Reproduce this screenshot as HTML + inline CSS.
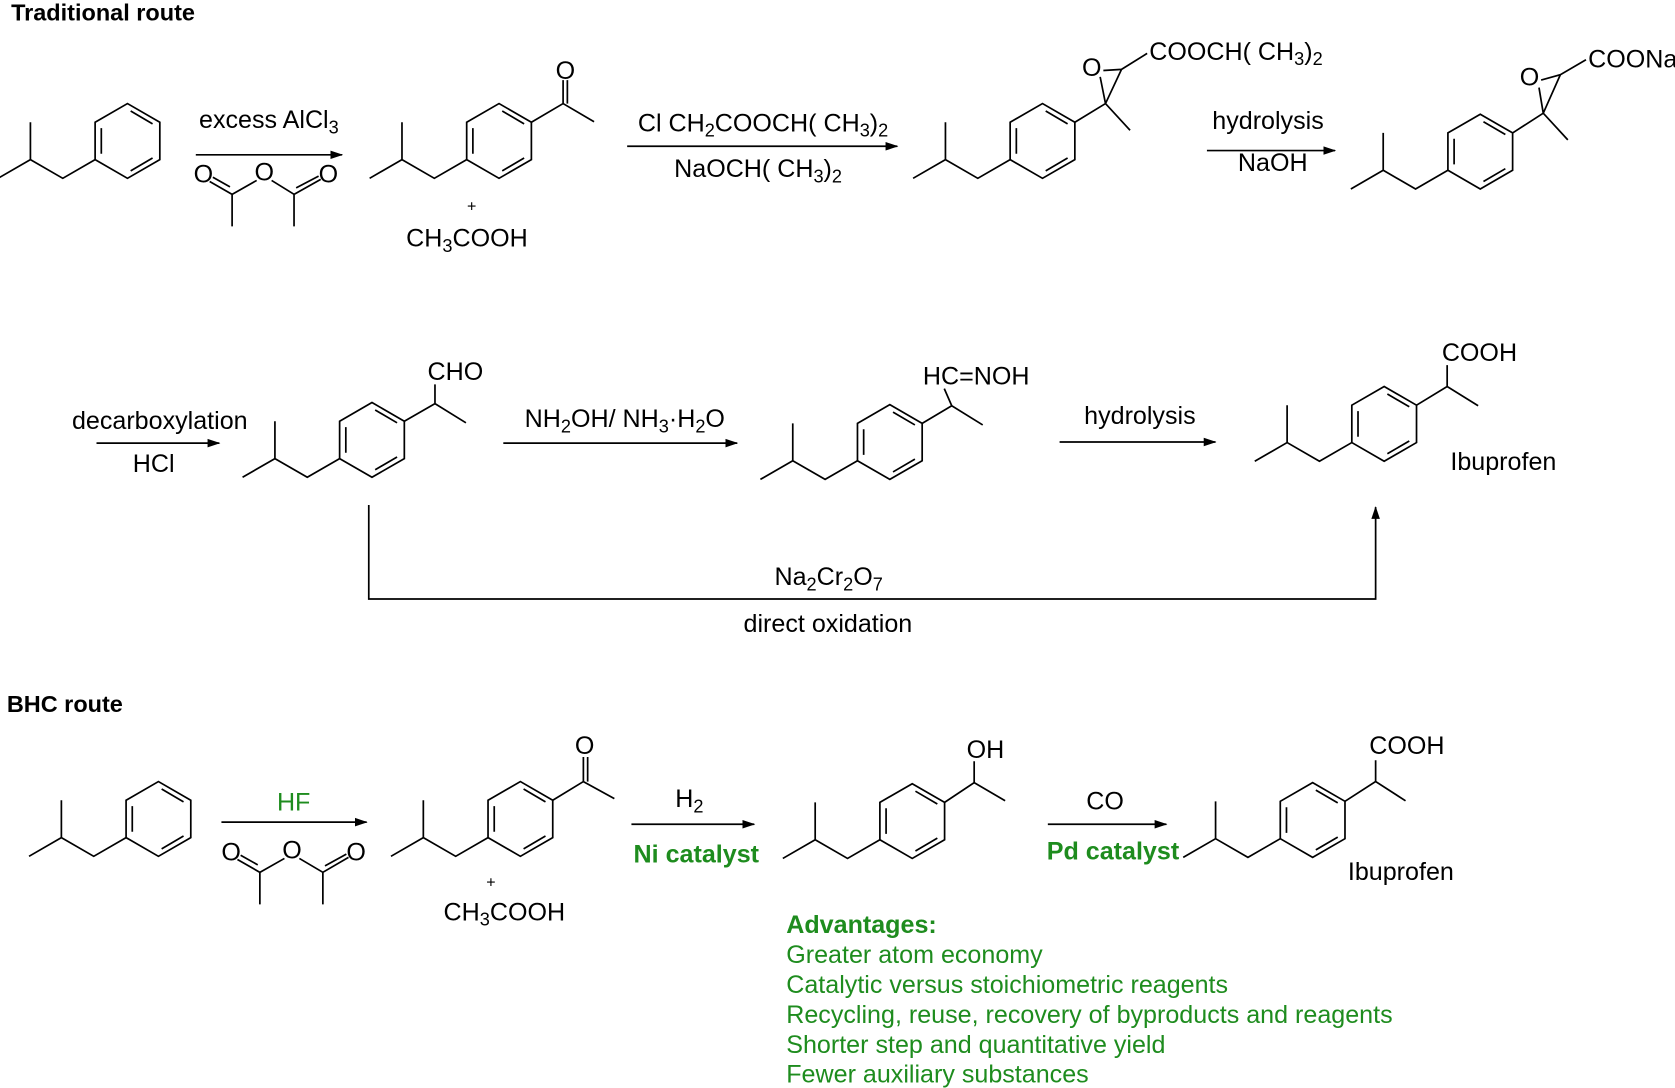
<!DOCTYPE html>
<html><head><meta charset="utf-8"><style>
html,body{margin:0;padding:0;background:#fff;}
svg{display:block;}
text{font-family:"Liberation Sans",Arial,sans-serif;font-size:23.5px;fill:#000;}
.b{font-weight:bold;}
.g{fill:#1e8c1e;}
.s{font-size:17px;}
</style></head><body>
<svg width="1675" height="1088" viewBox="0 0 1568 1019" xmlns="http://www.w3.org/2000/svg">
<defs>
<marker id="ah" markerWidth="12" markerHeight="10" refX="11" refY="5" orient="auto" markerUnits="userSpaceOnUse">
<path d="M0,1 L12,5 L0,9 Z" fill="#000"/>
</marker>
<g id="ib" fill="none" stroke="#000" stroke-width="1.6">
<path d="M0,-35 L30.3,-17.5 L30.3,17.5 L0,35 L-30.3,17.5 L-30.3,-17.5 Z"/>
<path d="M3,-28 L23.5,-16 M23.5,16 L3,28 M-24.5,12 L-24.5,-12"/>
<path d="M-30.3,17.5 L-60.6,35 L-90.9,17.5 L-90.9,-17.5 M-90.9,17.5 L-121.2,35"/>
</g>
</defs>

<text x="10" y="19" class="b" style="font-size:22px">Traditional route</text>

<!-- row 1 -->
<use href="#ib" x="119" y="132"/>
<line x1="183" y1="145" x2="320" y2="145" stroke="#000" stroke-width="1.6" marker-end="url(#ah)"/>
<text x="186" y="120">excess AlCl<tspan dy="5" class="s">3</tspan></text>
<g fill="none" stroke="#000" stroke-width="1.6">
<path d="M217,182 L217,212 M217,182 L240,169 M254,169 L275,182 L275,212 M196,170 L217,182 M199,166 L215,175 M275,182 L300,168 M277,176 L298,165"/>
</g>
<text x="181" y="171">O</text><text x="238" y="169">O</text><text x="298" y="171">O</text>

<use href="#ib" x="467" y="132"/>
<g fill="none" stroke="#000" stroke-width="1.6"><path d="M497.3,114.5 L527,97 L556,114 M527,97 L527,75 M531,97 L531,75"/></g>
<text x="520" y="74">O</text>
<text x="437" y="198" style="font-size:15px">+</text>
<text x="380" y="231">CH<tspan dy="5" class="s">3</tspan><tspan dy="-5">COOH</tspan></text>

<line x1="587" y1="137" x2="840" y2="137" stroke="#000" stroke-width="1.6" marker-end="url(#ah)"/>
<text x="597" y="123">Cl CH<tspan dy="5" class="s">2</tspan><tspan dy="-5">COOCH( CH</tspan><tspan dy="5" class="s">3</tspan><tspan dy="-5">)</tspan><tspan dy="5" class="s">2</tspan></text>
<text x="631" y="166">NaOCH( CH<tspan dy="5" class="s">3</tspan><tspan dy="-5">)</tspan><tspan dy="5" class="s">2</tspan></text>

<use href="#ib" x="976" y="132"/>
<g fill="none" stroke="#000" stroke-width="1.6"><path d="M1006.3,114.5 L1035,97 L1058,122 M1035,97 L1030,72 M1035,97 L1050,65 M1033,66 L1050,65 L1074,50"/></g>
<text x="1013" y="71">O</text>
<text x="1076" y="56">COOCH( CH<tspan dy="5" class="s">3</tspan><tspan dy="-5">)</tspan><tspan dy="5" class="s">2</tspan></text>

<line x1="1130" y1="141" x2="1250" y2="141" stroke="#000" stroke-width="1.6" marker-end="url(#ah)"/>
<text x="1135" y="121">hydrolysis</text>
<text x="1159" y="160">NaOH</text>

<use href="#ib" x="1386" y="142"/>
<g fill="none" stroke="#000" stroke-width="1.6"><path d="M1416.3,124.5 L1445,106 L1468,131 M1445,106 L1441,82 M1445,106 L1461,70 M1443,75 L1461,70 L1485,56"/></g>
<text x="1423" y="80">O</text>
<text x="1487" y="63">COONa</text>

<!-- row 2 -->
<line x1="90" y1="415" x2="205" y2="415" stroke="#000" stroke-width="1.6" marker-end="url(#ah)"/>
<text x="67" y="402">decarboxylation</text>
<text x="124" y="442">HCl</text>

<use href="#ib" x="348" y="412"/>
<g fill="none" stroke="#000" stroke-width="1.6"><path d="M378.3,394.5 L407,378 L436,396 M407,378 L407,360"/></g>
<text x="400" y="356">CHO</text>

<line x1="471" y1="415" x2="690" y2="415" stroke="#000" stroke-width="1.6" marker-end="url(#ah)"/>
<text x="491" y="400">NH<tspan dy="5" class="s">2</tspan><tspan dy="-5">OH/ NH</tspan><tspan dy="5" class="s">3</tspan><tspan dy="-5">·H</tspan><tspan dy="5" class="s">2</tspan><tspan dy="-5">O</tspan></text>

<use href="#ib" x="833" y="414"/>
<g fill="none" stroke="#000" stroke-width="1.6"><path d="M863.3,396.5 L891,380 L920,398 M891,380 L884,364"/></g>
<text x="864" y="360">HC=NOH</text>

<line x1="992" y1="414" x2="1138" y2="414" stroke="#000" stroke-width="1.6" marker-end="url(#ah)"/>
<text x="1015" y="397">hydrolysis</text>

<use href="#ib" x="1296" y="397"/>
<g fill="none" stroke="#000" stroke-width="1.6"><path d="M1326.3,379.5 L1355,362 L1384,380 M1355,362 L1355,342"/></g>
<text x="1350" y="338">COOH</text>
<text x="1358" y="440">Ibuprofen</text>

<path d="M345,473 L345,561 L1288,561 L1288,475" fill="none" stroke="#000" stroke-width="1.6" marker-end="url(#ah)"/>
<text x="725" y="548">Na<tspan dy="5" class="s">2</tspan><tspan dy="-5">Cr</tspan><tspan dy="5" class="s">2</tspan><tspan dy="-5">O</tspan><tspan dy="5" class="s">7</tspan></text>
<text x="696" y="592">direct oxidation</text>

<!-- BHC -->
<text x="6" y="667" class="b" style="font-size:22px">BHC route</text>
<use href="#ib" x="148" y="767"/>
<line x1="207" y1="770" x2="343" y2="770" stroke="#000" stroke-width="1.6" marker-end="url(#ah)"/>
<text x="259" y="759" class="g">HF</text>
<g fill="none" stroke="#000" stroke-width="1.6">
<path d="M243,817 L243,847 M243,817 L266,804 M280,804 L302,817 L302,847 M222,805 L243,817 M225,801 L241,810 M302,817 L326,803 M304,811 L324,800"/>
</g>
<text x="207" y="806">O</text><text x="264" y="804">O</text><text x="324" y="806">O</text>

<use href="#ib" x="487" y="767"/>
<g fill="none" stroke="#000" stroke-width="1.6"><path d="M517.3,749.5 L546,732 L575,748 M546,732 L546,709 M550,732 L550,709"/></g>
<text x="538" y="706">O</text>
<text x="455" y="831" style="font-size:15px">+</text>
<text x="415" y="862">CH<tspan dy="5" class="s">3</tspan><tspan dy="-5">COOH</tspan></text>

<line x1="591" y1="772" x2="706" y2="772" stroke="#000" stroke-width="1.6" marker-end="url(#ah)"/>
<text x="632" y="756">H<tspan dy="5" class="s">2</tspan></text>
<text x="593" y="808" class="b g">Ni catalyst</text>

<use href="#ib" x="854" y="769"/>
<g fill="none" stroke="#000" stroke-width="1.6"><path d="M884.3,751.5 L912,733 L941,750 M912,733 L912,713"/></g>
<text x="905" y="710">OH</text>

<line x1="981" y1="772" x2="1092" y2="772" stroke="#000" stroke-width="1.6" marker-end="url(#ah)"/>
<text x="1017" y="758">CO</text>
<text x="980" y="805" class="b g">Pd catalyst</text>

<use href="#ib" x="1229" y="768"/>
<g fill="none" stroke="#000" stroke-width="1.6"><path d="M1259.3,750.5 L1288,732 L1316,750 M1288,732 L1288,712"/></g>
<text x="1282" y="706">COOH</text>
<text x="1262" y="824">Ibuprofen</text>

<text x="736" y="874" class="b g">Advantages:</text>
<text x="736" y="902" class="g">Greater atom economy</text>
<text x="736" y="930" class="g">Catalytic versus stoichiometric reagents</text>
<text x="736" y="958" class="g">Recycling, reuse, recovery of byproducts and reagents</text>
<text x="736" y="986" class="g">Shorter step and quantitative yield</text>
<text x="736" y="1014" class="g">Fewer auxiliary substances</text>
</svg>
</body></html>
